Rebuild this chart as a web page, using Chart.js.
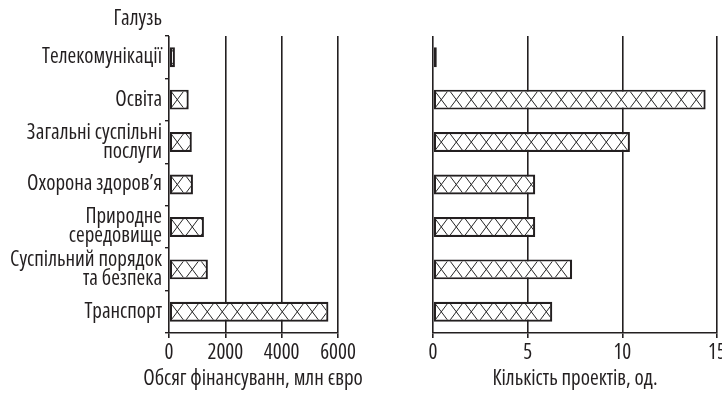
<!DOCTYPE html>
<html>
<head>
<meta charset="utf-8">
<script src="https://cdn.jsdelivr.net/npm/chart.js@4.4.0/dist/chart.umd.min.js"></script>
<style>
  html, body { margin: 0; padding: 0; background: #fff; overflow: hidden; }
  #wrap { position: relative; width: 722px; height: 393px; font-family: 'Open Sans', sans-serif; font-stretch: condensed; font-size: 21px; line-height: 24px; color: #231f20; }
  .box { position: absolute; top: 0; height: 393px; }
  #left { left: 0; width: 360px; }
  #right { left: 360px; width: 362px; }
  .txt { position: absolute; white-space: nowrap; }
  #head { left: 0; width: 162px; top: 5px; text-align: right; }
  #xt1 { left: 103px; width: 300px; top: 365px; text-align: center; }
  #xt2 { left: 425px; width: 300px; top: 365px; text-align: center; }
</style>
</head>
<body>
<div id="wrap">
  <div class="box" id="left"><canvas id="c1"></canvas></div>
  <div class="box" id="right"><canvas id="c2"></canvas></div>
  <div class="txt" id="head">Галузь</div>
  <div class="txt" id="xt1">Обсяг фінансуванн, млн євро</div>
  <div class="txt" id="xt2">Кількість проектів, од.</div>
</div>
<script>
const categories = [
  'Телекомунікації',
  'Освіта',
  ['Загальні суспільні', 'послуги'],
  'Охорона здоров\u2019я',
  ['Природне', 'середовище'],
  ['Суспільний порядок', 'та безпека'],
  'Транспорт'
];
const funding = [210, 700, 810, 850, 1240, 1380, 5660];
const projects = [0.2, 14.4, 10.4, 5.4, 5.4, 7.35, 6.3];
const fundingTicks = [0, 2000, 4000, 6000];
const projectTicks = [0, 5, 10, 15];

const FONT = "'Open Sans', sans-serif";
const STRETCH = 'normal condensed'; // goes into the canvas font string before the size
const INK = '#231f20';
const LINE = '#231f20';

// diagonal cross hatch inside every bar
const hatch = {
  id: 'hatch',
  afterDatasetsDraw(chart) {
    const ctx = chart.ctx;
    chart.getDatasetMeta(0).data.forEach(bar => {
      const { x, y, base, height } = bar.getProps(['x', 'y', 'base', 'height'], true);
      const left = Math.min(x, base), right = Math.max(x, base);
      const top = y - height / 2, bottom = y + height / 2;
      const inset = 2;
      if (right - left <= inset * 2) return;
      ctx.save();
      ctx.beginPath();
      ctx.rect(left + inset, top + inset, right - left - inset * 2, height - inset * 2);
      ctx.clip();
      ctx.strokeStyle = '#262626';
      ctx.lineWidth = 1;
      ctx.beginPath();
      const p = 15;
      for (let k = left - p; k < right + p; k += p) {
        ctx.moveTo(k, top); ctx.lineTo(k + p, bottom);
        ctx.moveTo(k + p, top); ctx.lineTo(k, bottom);
      }
      ctx.stroke();
      ctx.restore();
    });
  }
};

function barSet(values) {
  return {
    data: values,
    backgroundColor: '#fff',
    borderColor: LINE,
    borderWidth: 2.2,
    borderSkipped: false,
    categoryPercentage: 1,
    barPercentage: 0.47
  };
}

function valueAxis(tickList) {
  return {
    min: tickList[0],
    max: tickList[tickList.length - 1],
    ticks: {
      stepSize: tickList[1] - tickList[0],
      color: INK,
      font: { family: FONT, weight: STRETCH, size: 21 },
      padding: 2,
      callback: v => String(v)
    },
    grid: { color: LINE, lineWidth: 1.6, tickLength: 5 },
    border: { display: true, color: LINE, width: 1.6 },
    afterFit(s) { s.height = 55; s.paddingLeft = 0; s.paddingRight = 0; }
  };
}

new Chart(document.getElementById('c1'), {
  type: 'bar',
  data: { labels: categories, datasets: [barSet(funding)] },
  options: {
    indexAxis: 'y',
    responsive: true,
    maintainAspectRatio: false,
    animation: false,
    layout: { padding: { top: 36, right: 22, bottom: 5, left: 0 } },
    plugins: { legend: { display: false }, tooltip: { enabled: false } },
    scales: {
      x: valueAxis(fundingTicks),
      y: {
        ticks: { color: INK, font: { family: FONT, weight: STRETCH, size: 21, lineHeight: 0.9 }, padding: 3 },
        grid: { drawOnChartArea: false, offset: true, tickLength: 4, color: LINE, lineWidth: 1.4 },
        border: { display: false },
        afterFit(s) { s.width = 169; }
      }
    }
  },
  plugins: [hatch]
});

new Chart(document.getElementById('c2'), {
  type: 'bar',
  data: { labels: categories, datasets: [barSet(projects)] },
  options: {
    indexAxis: 'y',
    responsive: true,
    maintainAspectRatio: false,
    animation: false,
    layout: { padding: { top: 36, right: 5, bottom: 5, left: 73 } },
    plugins: { legend: { display: false }, tooltip: { enabled: false } },
    scales: {
      x: valueAxis(projectTicks),
      y: { display: false }
    }
  },
  plugins: [hatch]
});
</script>
</body>
</html>
